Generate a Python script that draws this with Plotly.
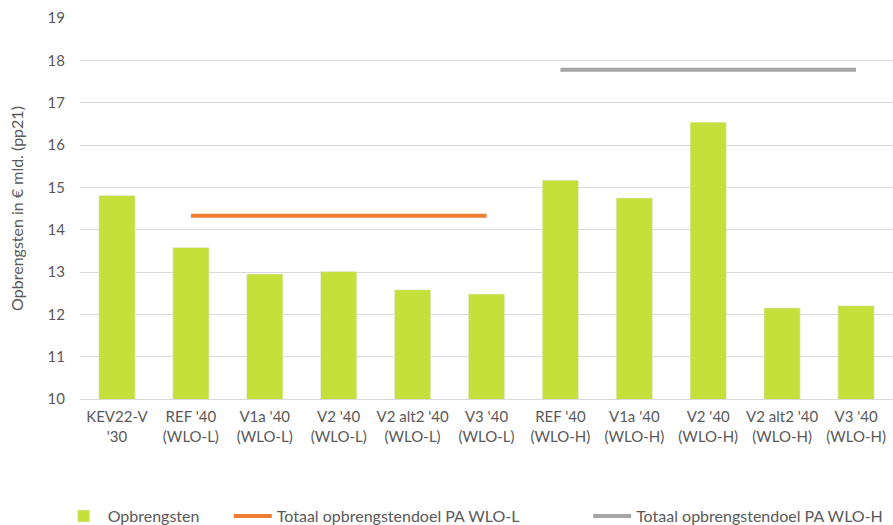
import plotly.graph_objects as go

categories = ["KEV22-V<br>'30", "REF '40<br>(WLO-L)", "V1a '40<br>(WLO-L)", "V2 '40<br>(WLO-L)",
              "V2 alt2 '40<br>(WLO-L)", "V3 '40<br>(WLO-L)", "REF '40<br>(WLO-H)", "V1a '40<br>(WLO-H)",
              "V2 '40<br>(WLO-H)", "V2 alt2 '40<br>(WLO-H)", "V3 '40<br>(WLO-H)"]
opbrengsten = [14.81, 13.58, 12.95, 13.01, 12.58, 12.48, 15.17, 14.75, 16.54, 12.15, 12.2]
doel_wlo_l = [None, 14.33, 14.33, 14.33, 14.33, 14.33, None, None, None, None, None]
doel_wlo_h = [None, None, None, None, None, None, 17.78, 17.78, 17.78, 17.78, 17.78]

txt = "#595959"

fig = go.Figure()
fig.add_trace(go.Bar(x=categories, y=opbrengsten, name="Opbrengsten", marker_color="#C5DF3B",
                     legend="legend"))
fig.add_trace(go.Scatter(x=categories, y=doel_wlo_l, mode="lines", name="Totaal opbrengstendoel PA WLO-L",
                         line=dict(color="#ED7D31", width=4), legend="legend2"))
fig.add_trace(go.Scatter(x=categories, y=doel_wlo_h, mode="lines", name="Totaal opbrengstendoel PA WLO-H",
                         line=dict(color="#A5A5A5", width=4), legend="legend3"))

leg = dict(orientation="h", yref="container", y=0.017, yanchor="middle", xanchor="left",
           font=dict(size=16, color=txt), itemwidth=38, bgcolor="rgba(0,0,0,0)")

fig.update_layout(
    width=893, height=525,
    margin=dict(l=80, r=0, t=18, b=126),
    plot_bgcolor="white", paper_bgcolor="white",
    font=dict(family="Lato, Open Sans, sans-serif", size=15, color=txt),
    bargap=0.51,
    showlegend=True,
    legend=dict(leg, x=-0.025),
    legend2=dict(leg, x=0.183),
    legend3=dict(leg, x=0.625),
)
fig.update_xaxes(range=[-0.5, 10.5], showline=True, linecolor="#D9D9D9", linewidth=1,
                 ticks="", showgrid=False, tickfont=dict(size=15, color=txt), ticklabelstandoff=4)
fig.update_yaxes(range=[10, 19], dtick=1, showgrid=True, gridcolor="#D9D9D9", gridwidth=1,
                 zeroline=False, ticks="", tickfont=dict(size=15, color=txt), ticklabelstandoff=14,
                 title=dict(text="Opbrengsten in € mld. (pp21)", font=dict(size=16, color=txt), standoff=19))

fig.write_html("out.html", config={"displayModeBar": False},
               post_script="document.body.style.margin='0';")
